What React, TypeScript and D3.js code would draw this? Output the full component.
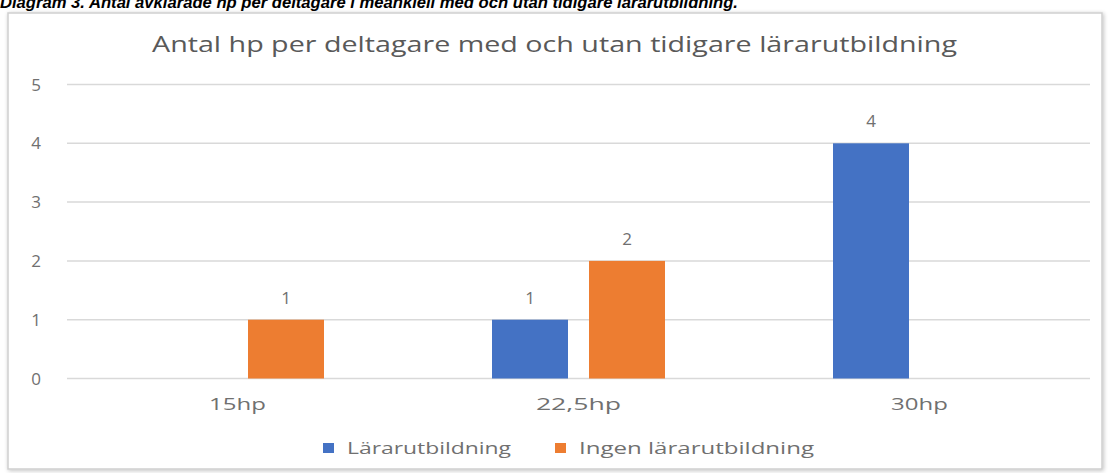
import React from "react";
import * as d3 from "d3";

const categories = ["15hp", "22,5hp", "30hp"];
const seriesNames = ["Lärarutbildning", "Ingen lärarutbildning"];
const seriesColors = ["#4472C4", "#ED7D31"];
const larar: (number | null)[] = [null, 1, 4];
const ingen: (number | null)[] = [1, 2, null];
const yTicks = [0, 1, 2, 3, 4, 5];
const caption = "Diagram 3. Antal avklarade hp per deltagare i meänkieli med och utan tidigare lärarutbildning.";
const title = "Antal hp per deltagare med och utan tidigare lärarutbildning";

export default function App() {
  const W = 1110, H = 473;
  const left = 67, right = 1090, top = 84.5, bottom = 378.5;
  const x0 = d3.scaleBand<string>().domain(categories).range([left, right]).paddingInner(0.4927).paddingOuter(0.4927 / 2);
  const x1 = d3.scaleBand<string>().domain(seriesNames).range([0, x0.bandwidth()]).paddingInner(0.2165);
  const y = d3.scaleLinear().domain([0, 5]).range([bottom, top]);
  const values = [larar, ingen];
  const font = "'Open Sans', 'Noto Sans', sans-serif";
  const grey = "#707070";

  return (
    <svg width={W} height={H} style={{ position: "absolute", left: 0, top: 0, background: "#fff" }}>
      <defs>
        <filter id="sh" x="-5%" y="-5%" width="110%" height="110%">
          <feGaussianBlur in="SourceAlpha" stdDeviation="2" />
          <feOffset dx="1" dy="1" />
          <feComponentTransfer><feFuncA type="linear" slope="0.25" /></feComponentTransfer>
          <feMerge><feMergeNode /><feMergeNode in="SourceGraphic" /></feMerge>
        </filter>
      </defs>
      <rect x={8} y={13} width={1094} height={456} fill="#fff" stroke="#cfcfcf" strokeWidth={1.5} filter="url(#sh)" />
      <text x={0} y={8} fontFamily="'Liberation Sans', Arial, sans-serif" fontWeight="bold" fontStyle="italic" fontSize={17} fill="#000" textLength={738} lengthAdjust="spacingAndGlyphs">{caption}</text>
      <text x={554.5} y={52} textAnchor="middle" fontFamily={font} fontSize={22} fill="#595959" textLength={805} lengthAdjust="spacingAndGlyphs">{title}</text>
      {yTicks.map((t) => (
        <g key={t}>
          <line x1={left} x2={right} y1={y(t)} y2={y(t)} stroke="#d9d9d9" strokeWidth={1.5} />
          <text x={41} y={y(t)} dy="0.36em" textAnchor="end" fontFamily={font} fontSize={17} fill={grey}>{t}</text>
        </g>
      ))}
      {categories.map((c, i) => (
        <g key={c}>
          {values.map((vals, s) => {
            const v = vals[i];
            if (v == null) return null;
            const bx = (x0(c) as number) + (x1(seriesNames[s]) as number);
            return (
              <g key={s}>
                <rect x={bx} y={y(v)} width={x1.bandwidth()} height={y(0) - y(v)} fill={seriesColors[s]} />
                <text x={bx + x1.bandwidth() / 2} y={y(v) - 16} textAnchor="middle" fontFamily={font} fontSize={17} fill={grey}>{v}</text>
              </g>
            );
          })}
          <text x={(x0(c) as number) + x0.bandwidth() / 2} y={410} textAnchor="middle" fontFamily={font} fontSize={16} fill={grey}
            textLength={c.length * 14.2} lengthAdjust="spacingAndGlyphs">{c}</text>
        </g>
      ))}
      {seriesNames.map((n, s) => {
        const lx = [323, 555][s];
        const tw = [164, 235][s];
        return (
          <g key={n}>
            <rect x={lx} y={443} width={11} height={10} fill={seriesColors[s]} />
            <text x={lx + 24} y={448} dy="0.36em" fontFamily={font} fontSize={16} fill={grey} textLength={tw} lengthAdjust="spacingAndGlyphs">{n}</text>
          </g>
        );
      })}
    </svg>
  );
}
